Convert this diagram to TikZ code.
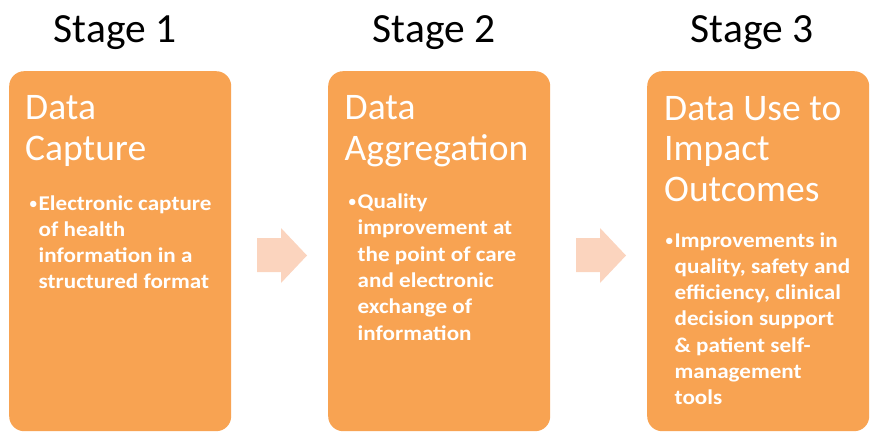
\documentclass[tikz,border=0pt]{standalone}
\usepackage{fontspec}
\setmainfont{Carlito}
\newfontfamily\bulletfont[FakeStretch=1.1]{Carlito}
\definecolor{boxorange}{HTML}{F8A352}
\definecolor{arrowpeach}{HTML}{FBD4BE}
\begin{document}
\begin{tikzpicture}[x=1pt,y=-1pt,
  stagebox/.style={fill=boxorange, draw=none, rounded corners=15pt, minimum width=222pt, minimum height=360pt, anchor=north west, inner sep=0pt},
  stagelabel/.style={anchor=base, inner sep=0pt, font=\fontsize{41.5}{48}\selectfont, text=black},
  titletext/.style={anchor=base west, inner sep=0pt, align=left, text=white, font=\fontsize{37.5}{40.5}\selectfont},
  bullettext/.style={anchor=base west, inner sep=0pt, align=left, text=white, font=\bulletfont\bfseries\fontsize{21}{26.3}\selectfont},
  bulletdot/.style={anchor=base east, inner sep=0pt, text=white, font=\fontsize{18}{20}\selectfont},
  flowarrow/.style={fill=arrowpeach, draw=none}
]
\useasboundingbox (0,0) rectangle (870,433);

% boxes
\node[stagebox] (box1) at (9,71) {};
\node[stagebox] (box2) at (328,71) {};
\node[stagebox] (box3) at (647,71) {};

% stage labels
\node[stagelabel] (s1) at (115,43) {Stage 1};
\node[stagelabel] (s2) at (434,43) {Stage 2};
\node[stagelabel] (s3) at (752,43) {Stage 3};

% titles (anchor = baseline of the last line)
\node[titletext] (t1) at (25,160.5) {Data\\Capture};
\node[titletext] (t2) at (344.5,160.5) {Data\\Aggregation};
\node[titletext] (t3) at (664,201) {Data Use to\\Impact\\Outcomes};

% bullets (text anchor = baseline of the last line)
\node[bulletdot] (d1) at (38,209) {•};
\node[bullettext] (b1) at (38.5,288.9) {Electronic capture\\of health\\information in a\\structured format};
\node[bulletdot] (d2) at (357,207.5) {•};
\node[bullettext] (b2) at (357.5,340) {Quality\\improvement at\\the point of care\\and electronic\\exchange of\\information};
\node[bulletdot] (d3) at (674,246) {•};
\node[bullettext] (b3) at (674.5,404.8) {Improvements in\\quality, safety and\\efficiency, clinical\\decision support\\\& patient self-\\management\\tools};

% arrows
\coordinate (a1) at (257,238);
\coordinate (a2) at (576,238);
\fill[flowarrow] (a1) -- ++(24,0) -- ++(0,-10) -- ++(26,27.5) -- ++(-26,27.5) -- ++(0,-11) -- ++(-24,0) -- cycle;
\fill[flowarrow] (a2) -- ++(24,0) -- ++(0,-10) -- ++(26,27.5) -- ++(-26,27.5) -- ++(0,-11) -- ++(-24,0) -- cycle;
\end{tikzpicture}
\end{document}
